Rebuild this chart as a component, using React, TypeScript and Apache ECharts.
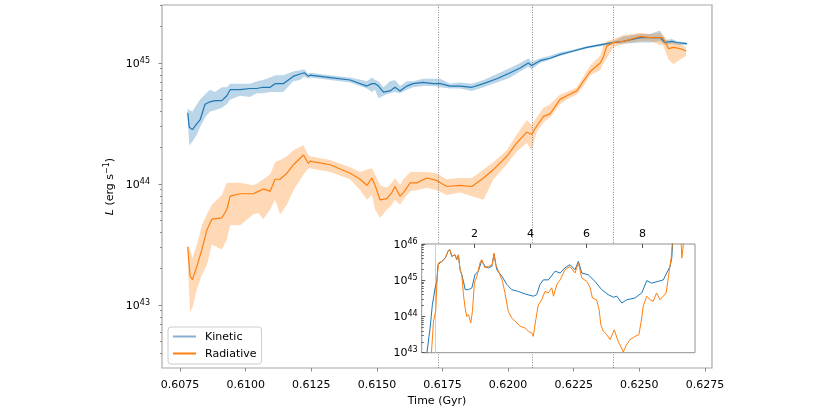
import React, { useEffect, useRef } from "react";
import * as echarts from "echarts";

const FONT = "DejaVu Sans";

// Main panel: time in Gyr, luminosities as log10(L / erg s^-1)
const kinTime = [0.60779, 0.60785, 0.60797, 0.60814, 0.60826, 0.60845, 0.60864, 0.60883, 0.60909, 0.60928, 0.60941, 0.60979, 0.61017, 0.61042, 0.61066, 0.61093, 0.61112, 0.61143, 0.61181, 0.61207, 0.61223, 0.61239, 0.61245, 0.61322, 0.61398, 0.61462, 0.61481, 0.61493, 0.61506, 0.61525, 0.6155, 0.61569, 0.61588, 0.61614, 0.61638, 0.61676, 0.61714, 0.61741, 0.61779, 0.61817, 0.61862, 0.61906, 0.61957, 0.62008, 0.62046, 0.62077, 0.6209, 0.62122, 0.6216, 0.62198, 0.62248, 0.623, 0.62351, 0.62401, 0.62438, 0.62503, 0.62541, 0.62579, 0.62598, 0.62624, 0.62643, 0.62681];
const kinMid = [44.59, 44.47, 44.45, 44.5, 44.53, 44.66, 44.68, 44.69, 44.69, 44.73, 44.78, 44.78, 44.79, 44.79, 44.8, 44.8, 44.83, 44.83, 44.89, 44.91, 44.92, 44.89, 44.9, 44.88, 44.86, 44.81, 44.83, 44.83, 44.81, 44.76, 44.77, 44.8, 44.77, 44.81, 44.83, 44.84, 44.83, 44.83, 44.81, 44.81, 44.8, 44.83, 44.87, 44.92, 44.96, 45.0, 44.98, 45.02, 45.04, 45.07, 45.1, 45.13, 45.15, 45.17, 45.18, 45.21, 45.21, 45.21, 45.17, 45.18, 45.17, 45.16];
const kinHi = [44.63, 44.61, 44.6, 44.66, 44.7, 44.74, 44.78, 44.76, 44.8, 44.8, 44.83, 44.83, 44.83, 44.85, 44.86, 44.88, 44.9, 44.9, 44.93, 44.94, 44.95, 44.91, 44.92, 44.9, 44.88, 44.85, 44.88, 44.86, 44.85, 44.8, 44.85, 44.86, 44.81, 44.85, 44.85, 44.87, 44.87, 44.87, 44.83, 44.84, 44.83, 44.86, 44.91, 44.96, 45.0, 45.04, 45.01, 45.04, 45.06, 45.09, 45.11, 45.14, 45.16, 45.18, 45.22, 45.24, 45.24, 45.27, 45.19, 45.2, 45.18, 45.17];
const kinLo = [44.53, 44.32, 44.35, 44.41, 44.47, 44.55, 44.6, 44.61, 44.63, 44.66, 44.7, 44.73, 44.72, 44.75, 44.75, 44.76, 44.76, 44.76, 44.85, 44.86, 44.89, 44.87, 44.88, 44.86, 44.84, 44.79, 44.76, 44.78, 44.71, 44.73, 44.75, 44.76, 44.75, 44.78, 44.8, 44.81, 44.81, 44.8, 44.79, 44.79, 44.77, 44.8, 44.84, 44.88, 44.93, 44.97, 44.95, 45.0, 45.03, 45.06, 45.09, 45.12, 45.14, 45.16, 45.16, 45.17, 45.17, 45.18, 45.15, 45.16, 45.15, 45.15];

const radTime = [0.60779, 0.60788, 0.60797, 0.60814, 0.60833, 0.60852, 0.60871, 0.60909, 0.60928, 0.60941, 0.60979, 0.61029, 0.61048, 0.61067, 0.61093, 0.61112, 0.61131, 0.61157, 0.61182, 0.6122, 0.61239, 0.61245, 0.61322, 0.61398, 0.61436, 0.61462, 0.61481, 0.61493, 0.61512, 0.61538, 0.61557, 0.61569, 0.61588, 0.61601, 0.61627, 0.61652, 0.6169, 0.61728, 0.61766, 0.61817, 0.61862, 0.61906, 0.61944, 0.61995, 0.62033, 0.62071, 0.6209, 0.62109, 0.62135, 0.6216, 0.62198, 0.62224, 0.62262, 0.62287, 0.62313, 0.62351, 0.62363, 0.62376, 0.62401, 0.62439, 0.62503, 0.62541, 0.62579, 0.6259, 0.62611, 0.6263, 0.62656, 0.62678];
const radMid = [43.48, 43.24, 43.21, 43.32, 43.46, 43.62, 43.71, 43.72, 43.79, 43.9, 43.92, 43.92, 43.94, 43.96, 43.94, 44.04, 44.04, 44.09, 44.16, 44.24, 44.17, 44.19, 44.16, 44.09, 44.04, 43.99, 44.05, 43.99, 43.87, 43.88, 43.93, 43.98, 43.9, 43.93, 44.01, 44.01, 44.05, 44.03, 43.98, 43.99, 43.98, 44.05, 44.12, 44.23, 44.34, 44.43, 44.41, 44.48, 44.56, 44.58, 44.7, 44.73, 44.77, 44.85, 44.93, 45.0, 45.05, 45.14, 45.17, 45.18, 45.22, 45.21, 45.21, 45.21, 45.12, 45.13, 45.12, 45.1];
const radHi = [43.5, 43.46, 43.39, 43.5, 43.66, 43.75, 43.83, 43.91, 44.01, 44.01, 44.01, 43.99, 44.01, 44.04, 44.08, 44.18, 44.2, 44.23, 44.28, 44.32, 44.24, 44.23, 44.2, 44.14, 44.1, 44.12, 44.13, 44.08, 43.99, 43.97, 44.01, 44.05, 43.99, 44.04, 44.1, 44.1, 44.1, 44.09, 44.04, 44.05, 44.05, 44.12, 44.18, 44.28, 44.41, 44.53, 44.49, 44.55, 44.63, 44.66, 44.74, 44.76, 44.8, 44.89, 44.98, 45.06, 45.15, 45.18, 45.2, 45.23, 45.25, 45.24, 45.25, 45.23, 45.18, 45.17, 45.16, 45.13];
const radLo = [43.36, 42.94, 42.98, 43.13, 43.25, 43.33, 43.5, 43.46, 43.54, 43.66, 43.66, 43.75, 43.76, 43.71, 43.79, 43.87, 43.75, 43.83, 43.95, 44.08, 44.13, 44.13, 44.1, 44.04, 43.95, 43.87, 43.91, 43.79, 43.72, 43.79, 43.83, 43.87, 43.83, 43.87, 43.94, 43.95, 43.97, 43.95, 43.91, 43.93, 43.9, 43.87, 44.04, 44.16, 44.27, 44.34, 44.28, 44.43, 44.51, 44.55, 44.66, 44.7, 44.74, 44.81, 44.9, 44.94, 45.0, 45.04, 45.13, 45.16, 45.18, 45.18, 45.15, 45.15, 45.03, 44.99, 45.03, 45.06];

const eventTimes = [0.61732, 0.62091, 0.62402];
const xTicks = [0.6075, 0.61, 0.6125, 0.615, 0.6175, 0.62, 0.6225, 0.625, 0.6275];
const yDecades = [43, 44, 45];

// Inset panel
const insetKinX = [0.29, 0.42, 0.5, 0.6, 0.66, 0.7, 0.84, 0.96, 1.07, 1.13, 1.19, 1.31, 1.37, 1.43, 1.49, 1.55, 1.61, 1.67, 1.79, 1.91, 2.02, 2.14, 2.26, 2.38, 2.5, 2.62, 2.7, 2.8, 2.98, 3.16, 3.33, 3.57, 3.81, 4.1, 4.22, 4.34, 4.46, 4.64, 4.88, 5.06, 5.23, 5.41, 5.59, 5.71, 5.83, 6.06, 6.3, 6.54, 6.78, 6.96, 7.08, 7.26, 7.43, 7.73, 7.97, 8.15, 8.32, 8.56, 8.74, 8.86, 8.98, 9.04, 9.08];
const insetKinY = [42.9, 43.68, 44.32, 44.79, 44.97, 45.43, 45.52, 45.61, 45.82, 45.84, 45.66, 45.7, 45.57, 45.7, 45.29, 45.15, 44.97, 44.74, 44.74, 44.79, 45.15, 45.25, 45.54, 45.38, 45.34, 45.38, 45.72, 45.29, 45.11, 44.88, 44.74, 44.69, 44.62, 44.56, 44.6, 44.88, 45.01, 45.01, 45.25, 45.2, 45.34, 45.43, 45.29, 45.52, 45.2, 45.15, 44.97, 44.74, 44.6, 44.53, 44.56, 44.37, 44.46, 44.51, 44.65, 44.99, 44.92, 44.97, 45.01, 45.2, 45.38, 45.61, 46.1];
const insetRadX = [0.46, 0.54, 0.62, 0.67, 0.72, 0.84, 0.96, 1.07, 1.13, 1.19, 1.31, 1.37, 1.43, 1.49, 1.55, 1.61, 1.67, 1.73, 1.79, 1.87, 1.93, 2.0, 2.09, 2.2, 2.26, 2.38, 2.5, 2.64, 2.7, 2.76, 2.86, 3.0, 3.09, 3.21, 3.33, 3.45, 3.63, 3.81, 3.93, 4.05, 4.1, 4.19, 4.28, 4.4, 4.52, 4.64, 4.76, 4.82, 4.94, 5.02, 5.06, 5.23, 5.41, 5.59, 5.71, 5.83, 6.01, 6.13, 6.21, 6.36, 6.45, 6.51, 6.6, 6.72, 6.84, 6.99, 7.13, 7.25, 7.31, 7.43, 7.55, 7.73, 7.87, 7.97, 8.02, 8.15, 8.27, 8.38, 8.5, 8.62, 8.74, 8.84, 8.9, 8.95, 9.02, 9.06, 9.16, 9.27, 9.38, 9.4, 9.46, 9.55];
const insetRadY = [42.9, 43.87, 44.15, 45.06, 45.48, 45.52, 45.61, 45.82, 45.84, 45.66, 45.7, 45.57, 45.7, 45.29, 45.15, 44.6, 44.23, 44.0, 44.05, 43.82, 44.14, 44.92, 45.11, 45.48, 45.57, 45.34, 45.38, 45.43, 45.75, 45.43, 45.25, 44.97, 44.65, 44.14, 43.96, 43.87, 43.73, 43.68, 43.59, 43.54, 43.45, 43.91, 44.32, 44.46, 44.69, 44.65, 44.79, 44.56, 44.88, 44.97, 45.01, 45.29, 45.38, 45.2, 45.48, 45.06, 44.97, 44.79, 44.51, 44.46, 44.19, 43.77, 43.59, 43.5, 43.36, 43.63, 43.31, 43.13, 43.02, 43.22, 43.36, 43.45, 43.5, 43.96, 44.28, 44.56, 44.46, 44.42, 44.65, 44.46, 44.56, 44.65, 44.97, 45.25, 45.61, 46.03, 46.3, 46.2, 45.98, 45.61, 46.03, 46.3];
const insetTicks = [2, 4, 6, 8];
const insetDecades = [43, 44, 45, 46];
const insetMarker = 0.62;

const BLUE = "#1f77b4";
const ORANGE = "#ff7f0e";

const tickRich = {
  b: { fontFamily: FONT, fontSize: 11, color: "#000" },
  s: { fontFamily: FONT, fontSize: 8, color: "#000", padding: [0, 0, 6, 0] },
};
const supLabel = (v: number) => `{b|10}{s|${Math.round(v)}}`;

function minorTicks(lo: number, hi: number) {
  const out: number[] = [];
  for (let n = Math.floor(lo); n <= Math.ceil(hi); n++) {
    for (let k = 2; k <= 9; k++) {
      const v = n + Math.log10(k);
      if (v > lo && v < hi) out.push(v);
    }
  }
  return out;
}

function pairs(x: number[], y: number[]) {
  return x.map((v, i) => [v, y[i]]);
}

function band(t: number[], lo: number[], hi: number[], fill: string, xi: number, yi: number, z: number) {
  return {
    type: "custom",
    xAxisIndex: xi,
    yAxisIndex: yi,
    z,
    silent: true,
    data: [[t[0], lo[0]]],
    renderItem: (_p: any, api: any) => {
      const pts: number[][] = [];
      for (let i = 0; i < t.length; i++) pts.push(api.coord([t[i], hi[i]]));
      for (let i = t.length - 1; i >= 0; i--) pts.push(api.coord([t[i], lo[i]]));
      return { type: "polygon", shape: { points: pts }, style: { fill } };
    },
  };
}

export default function App() {
  const ref = useRef<HTMLDivElement>(null);
  useEffect(() => {
    const chart = echarts.init(ref.current!, null, { renderer: "svg" });
    const yMin = 42.48;
    const yMax = 45.48;
    const axisGray = "#8a8a8a";
    const option: any = {
      animation: false,
      textStyle: { fontFamily: FONT },
      grid: [
        { left: 162, top: 5, width: 550, height: 363, show: true, borderColor: "#a8a8a8", borderWidth: 1.2, backgroundColor: "transparent" },
        { left: 421.7, top: 244, width: 273.3, height: 108.7, show: true, borderColor: "#909090", borderWidth: 1, backgroundColor: "#ffffff", z: 3 },
      ],
      legend: {
        left: 168,
        top: 327,
        orient: "vertical",
        icon: "rect",
        itemWidth: 23,
        itemHeight: 2,
        itemGap: 4,
        padding: [3, 5, 4, 5],
        backgroundColor: "rgba(255,255,255,0.8)",
        borderColor: "#cccccc",
        borderWidth: 1,
        borderRadius: 3,
        z: 6,
        textStyle: { fontFamily: FONT, fontSize: 11, color: "#000", lineHeight: 13, padding: [0, 0, 0, 4] },
        data: [
          { name: "Kinetic", itemStyle: { color: "#86afd3" } },
          { name: "Radiative", itemStyle: { color: ORANGE } },
        ],
      },
      xAxis: [
        {
          gridIndex: 0,
          type: "value",
          min: 0.60681,
          max: 0.62777,
          axisLine: { show: false },
          splitLine: { show: false },
          axisTick: { show: true, customValues: xTicks, length: 3.5, lineStyle: { color: axisGray } },
          axisLabel: { show: true, customValues: xTicks, formatter: (v: number) => v.toFixed(4), margin: 11, fontFamily: FONT, fontSize: 11, color: "#000" },
          name: "Time (Gyr)",
          nameLocation: "middle",
          nameGap: 27,
          nameTextStyle: { fontFamily: FONT, fontSize: 11, color: "#000" },
        },
        {
          gridIndex: 1,
          type: "value",
          position: "top",
          min: 0.12,
          max: 9.87,
          z: 4,
          axisLine: { show: false },
          splitLine: { show: false },
          axisTick: { show: true, inside: true, customValues: insetTicks, length: 4, lineStyle: { color: "#555" } },
          axisLabel: { show: true, customValues: insetTicks, margin: 5, fontFamily: FONT, fontSize: 11, color: "#000" },
        },
      ],
      yAxis: [
        {
          gridIndex: 0,
          type: "value",
          position: "left",
          min: yMin,
          max: yMax,
          axisLine: { show: false },
          splitLine: { show: false },
          axisTick: { show: true, customValues: yDecades, length: 3.5, lineStyle: { color: axisGray } },
          axisLabel: { show: true, customValues: yDecades, formatter: supLabel, margin: 12, rich: tickRich },
          name: "{i|L} (erg s{p|−1})",
          nameLocation: "middle",
          nameRotate: 90,
          nameGap: 42,
          nameTextStyle: {
            fontFamily: FONT,
            fontSize: 11,
            color: "#000",
            rich: {
              i: { fontFamily: FONT, fontSize: 11, fontStyle: "italic", color: "#000" },
              p: { fontFamily: FONT, fontSize: 8, color: "#000", padding: [0, 0, 6, 0] },
            },
          },
        },
        {
          gridIndex: 0,
          type: "value",
          position: "left",
          min: yMin,
          max: yMax,
          axisLine: { show: false },
          splitLine: { show: false },
          axisLabel: { show: false },
          axisTick: { show: true, customValues: minorTicks(yMin, yMax), length: 2, lineStyle: { color: axisGray } },
        },
        {
          gridIndex: 1,
          type: "value",
          position: "left",
          min: 43,
          max: 46,
          z: 4,
          axisLine: { show: false },
          splitLine: { show: false },
          axisTick: { show: true, inside: true, customValues: insetDecades, length: 3.5, lineStyle: { color: "#555" } },
          axisLabel: { show: true, customValues: insetDecades, formatter: supLabel, margin: 4, rich: tickRich },
        },
        {
          gridIndex: 1,
          type: "value",
          position: "left",
          min: 43,
          max: 46,
          z: 4,
          axisLine: { show: false },
          splitLine: { show: false },
          axisLabel: { show: false },
          axisTick: { show: true, inside: true, customValues: minorTicks(43, 46), length: 2, lineStyle: { color: "#555" } },
        },
      ],
      series: [
        band(kinTime, kinLo, kinHi, "rgba(31,119,180,0.3)", 0, 0, 1),
        band(radTime, radLo, radHi, "rgba(255,127,14,0.3)", 0, 0, 1),
        {
          name: "Kinetic",
          type: "line",
          xAxisIndex: 0,
          yAxisIndex: 0,
          z: 2,
          symbol: "none",
          showSymbol: false,
          data: pairs(kinTime, kinMid),
          lineStyle: { color: BLUE, width: 1.2 },
          itemStyle: { color: BLUE },
          markLine: {
            silent: true,
            z: 2,
            precision: 6,
            symbol: ["none", "none"],
            label: { show: false },
            lineStyle: { type: [1, 1.5], color: "#7a7a7a", width: 0.9 },
            data: eventTimes.map((t) => ({ xAxis: t })),
          },
        },
        {
          name: "Radiative",
          type: "line",
          xAxisIndex: 0,
          yAxisIndex: 0,
          z: 2,
          symbol: "none",
          showSymbol: false,
          data: pairs(radTime, radMid),
          lineStyle: { color: ORANGE, width: 1.2 },
          itemStyle: { color: ORANGE },
        },
        {
          name: "Kinetic (inset)",
          type: "line",
          xAxisIndex: 1,
          yAxisIndex: 2,
          z: 5,
          clip: true,
          symbol: "none",
          showSymbol: false,
          data: pairs(insetKinX, insetKinY),
          lineStyle: { color: BLUE, width: 1 },
          itemStyle: { color: BLUE },
          markLine: {
            silent: true,
            z: 4,
            precision: 4,
            symbol: ["none", "none"],
            label: { show: false },
            lineStyle: { type: "solid", color: "#cfcfcf", width: 1 },
            data: [{ xAxis: insetMarker }],
          },
        },
        {
          name: "Radiative (inset)",
          type: "line",
          xAxisIndex: 1,
          yAxisIndex: 2,
          z: 5,
          clip: true,
          symbol: "none",
          showSymbol: false,
          data: pairs(insetRadX, insetRadY),
          lineStyle: { color: ORANGE, width: 1 },
          itemStyle: { color: ORANGE },
        },
      ],
    };
    chart.setOption(option);
    return () => chart.dispose();
  }, []);
  return <div ref={ref} style={{ position: "fixed", left: 0, top: 0, width: 830, height: 415 }} />;
}
